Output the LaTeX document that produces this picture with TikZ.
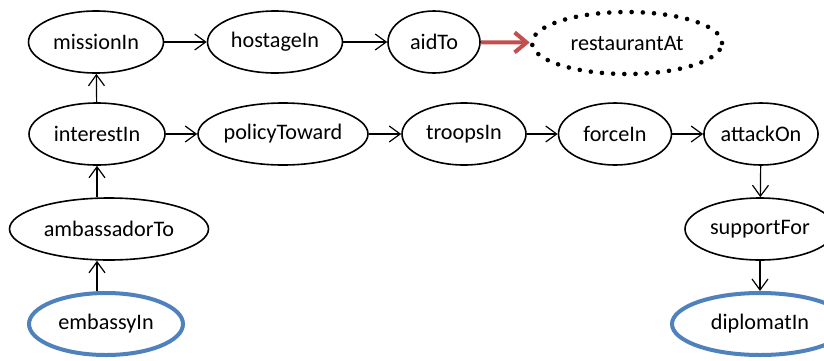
\documentclass[tikz,border=0pt]{standalone}
\usepackage{fontspec}
\setmainfont{Carlito}
\usetikzlibrary{shapes.geometric}
\usetikzlibrary{arrows.meta}
\definecolor{relblue}{RGB}{79,129,189}
\definecolor{relred}{RGB}{192,80,77}
\tikzset{
	rel/.style={ellipse,draw,line width=0.8pt,inner sep=0pt,minimum height=31pt,font=\fontsize{11.1}{13}\selectfont},
	goal/.style={rel,draw=relblue,line width=2pt},
	guess/.style={rel,draw,line width=2.3pt,dash pattern=on 0pt off 5.6pt,line cap=round},
	edge/.style={-{Straight Barb[length=5.5pt,width=8pt]},line width=0.6pt},
	bestedge/.style={-{Straight Barb[length=6pt,width=10pt,line width=2pt]},draw=relred,line width=2pt}
}

\begin{document}
\begin{tikzpicture}[x=0.5pt,y=-0.5pt]
	\clip (0,0) rectangle (824,360);
	\node[rel,minimum width=67.5pt] (missionIn) at (96,42) {missionIn};
	\node[rel,minimum width=67.5pt] (hostageIn) at (275,42) {hostageIn};
	\node[rel,minimum width=46pt] (aidTo) at (434,42) {aidTo};
	\node[guess,minimum width=95pt] (restaurantAt) at (627,43) {restaurantAt};
	
	\node[rel,minimum width=68pt] (interestIn) at (97,134) {interestIn};
	\node[rel,minimum width=85pt] (policyToward) at (283,134) {policyToward};
	\node[rel,minimum width=62pt] (troopsIn) at (464,134) {troopsIn};
	\node[rel,minimum width=56.5pt] (forceIn) at (615,134) {forceIn};
	\node[rel,minimum width=56pt] (attackOn) at (761,134) {attackOn};
	
	\node[rel,minimum width=99.5pt] (ambassadorTo) at (109,229) {ambassadorTo};
	\node[rel,minimum width=75pt] (supportFor) at (760,229) {supportFor};
	
	\node[goal,minimum width=77pt] (embassyIn) at (106,324) {embassyIn};
	\node[goal,minimum width=88pt] (diplomatIn) at (760,324) {diplomatIn};
	
	\draw[edge] (missionIn) -- (hostageIn);
	\draw[edge] (hostageIn) -- (aidTo);
	\draw[bestedge] (aidTo) -- (restaurantAt);
	\draw[edge] (interestIn) -- (missionIn);
	\draw[edge] (interestIn) -- (policyToward);
	\draw[edge] (policyToward) -- (troopsIn);
	\draw[edge] (troopsIn) -- (forceIn);
	\draw[edge] (forceIn) -- (attackOn);
	\draw[edge] (attackOn) -- (supportFor);
	\draw[edge] (supportFor) -- (diplomatIn);
	\draw[edge] (ambassadorTo.north -| interestIn.south) -- (interestIn);
	\draw[edge] (embassyIn.north -| interestIn.south) -- (ambassadorTo.south -| interestIn.south);
\end{tikzpicture}
\end{document}
